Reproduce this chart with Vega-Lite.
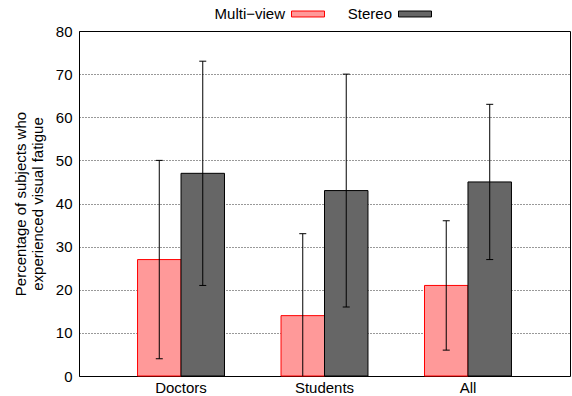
{
  "$schema": "https://vega.github.io/schema/vega-lite/v6.json",
  "width": 491,
  "height": 345,
  "autosize": {"type": "none"},
  "padding": {"left": 79, "top": 31, "right": 2, "bottom": 20},
  "config": {
    "font": "Liberation Sans",
    "view": {"stroke": "#000", "strokeWidth": 1},
    "axis": {"labelFont": "Liberation Sans", "titleFont": "Liberation Sans", "labelColor": "#000", "titleColor": "#000"}
  },
  "data": {
    "values": [
      {"group": "Doctors", "series": "Multi−view", "value": 27, "lo": 4, "hi": 50},
      {"group": "Doctors", "series": "Stereo", "value": 47, "lo": 21, "hi": 73},
      {"group": "Students", "series": "Multi−view", "value": 14, "lo": -5, "hi": 33},
      {"group": "Students", "series": "Stereo", "value": 43, "lo": 16, "hi": 70},
      {"group": "All", "series": "Multi−view", "value": 21, "lo": 6, "hi": 36},
      {"group": "All", "series": "Stereo", "value": 45, "lo": 27, "hi": 63}
    ]
  },
  "encoding": {
    "x": {
      "field": "group", "type": "nominal", "sort": ["Doctors", "Students", "All"],
      "scale": {"paddingInner": 0.394, "paddingOuter": 0.408},
      "axis": {"title": null, "labelAngle": 0, "labelFontSize": 15, "ticks": false, "domain": false, "labelPadding": 4}
    },
    "xOffset": {
      "field": "series", "type": "nominal", "sort": ["Multi−view", "Stereo"],
      "scale": {"paddingInner": 0, "paddingOuter": 0}
    }
  },
  "layer": [
    {
      "mark": {"type": "bar", "strokeWidth": 1},
      "encoding": {
        "y": {
          "field": "value", "type": "quantitative",
          "scale": {"domain": [0, 80], "nice": false},
          "title": ["Percentage of subjects who", "experienced visual fatigue"],
          "axis": {
            "values": [0, 10, 20, 30, 40, 50, 60, 70, 80],
            "labelFontSize": 15, "titleFontSize": 15, "titleFontWeight": "normal",
            "ticks": false, "domain": false, "labelPadding": 7, "titlePadding": 10,
            "grid": true, "gridColor": "#000", "gridDash": [1, 2], "gridOpacity": 0.8, "gridWidth": 1
          }
        },
        "fill": {
          "field": "series", "type": "nominal",
          "scale": {"domain": ["Multi−view", "Stereo"], "range": ["#ff9999", "#666666"]},
          "legend": {
            "orient": "none", "legendX": 212, "legendY": -34, "direction": "horizontal", "title": null,
            "symbolType": "M-1,-0.18H1V0.18H-1Z", "symbolSize": 1089, "symbolStrokeWidth": 1,
            "labelAlign": "right", "labelOffset": -40, "labelFontSize": 15, "columnPadding": 20, "labelColor": "#000"
          }
        },
        "stroke": {
          "field": "series", "type": "nominal",
          "scale": {"domain": ["Multi−view", "Stereo"], "range": ["#ff0000", "#000000"]}
        }
      }
    },
    {
      "mark": {"type": "rule", "clip": true, "color": "#000", "strokeWidth": 1},
      "encoding": {
        "y": {"field": "lo", "type": "quantitative", "title": ["Percentage of subjects who", "experienced visual fatigue"]},
        "y2": {"field": "hi"}
      }
    },
    {
      "mark": {"type": "tick", "clip": true, "color": "#000", "size": 7, "thickness": 1, "opacity": 1},
      "encoding": {
        "y": {"field": "hi", "type": "quantitative", "title": ["Percentage of subjects who", "experienced visual fatigue"]}
      }
    },
    {
      "mark": {"type": "tick", "clip": true, "color": "#000", "size": 7, "thickness": 1, "opacity": 1},
      "encoding": {
        "y": {"field": "lo", "type": "quantitative", "title": ["Percentage of subjects who", "experienced visual fatigue"]}
      }
    }
  ]
}
